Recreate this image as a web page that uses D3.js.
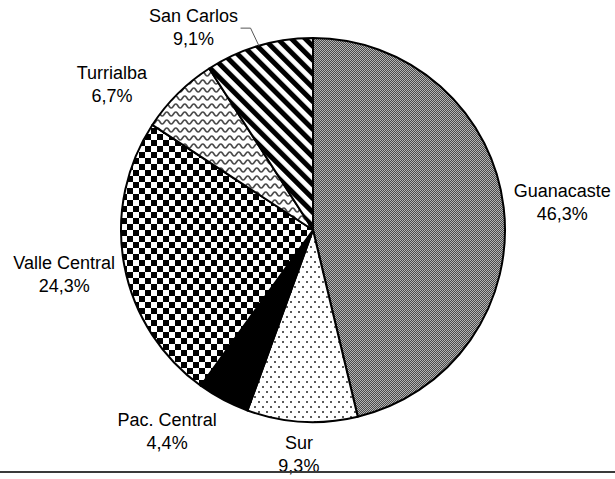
<!DOCTYPE html>
<html>
<head>
<meta charset="utf-8">
<script src="https://cdn.jsdelivr.net/npm/d3@7/dist/d3.min.js"></script>
<style>
html,body{margin:0;padding:0;background:#fff;}
svg{display:block;}
text{font-family:"Liberation Sans",Arial,sans-serif;font-size:18px;fill:#000;}
</style>
</head>
<body>
<svg id="chart" width="615" height="479"></svg>
<script>
const categories = ["Guanacaste","Sur","Pac. Central","Valle Central","Turrialba","San Carlos"];
const values = [46.3, 9.3, 4.4, 24.3, 6.7, 9.1];
const valueLabels = ["46,3%","9,3%","4,4%","24,3%","6,7%","9,1%"];
const patternIds = ["pGua","pSur","pPac","pValle","pTurr","pSC"];
const labelNudge = [[1,1],[0,-26],[-29,-20],[-3,-2],[-25,31],[-49,37]];

const W = 615, H = 479;
const cx = 313, cy = 230, R = 192, labelR = 250;

const svg = d3.select("#chart");
const defs = svg.append("defs");

// Guanacaste: fine gray checker
let p = defs.append("pattern").attr("id","pGua").attr("patternUnits","userSpaceOnUse").attr("width",2).attr("height",2);
p.append("rect").attr("width",2).attr("height",2).attr("fill","#b4b4b4");
p.append("rect").attr("width",1).attr("height",1).attr("fill","#4a4a4a");
p.append("rect").attr("x",1).attr("y",1).attr("width",1).attr("height",1).attr("fill","#4a4a4a");

// Sur: dots
p = defs.append("pattern").attr("id","pSur").attr("patternUnits","userSpaceOnUse").attr("width",8).attr("height",10);
p.append("rect").attr("width",8).attr("height",10).attr("fill","#fff");
p.append("rect").attr("x",1).attr("y",1).attr("width",2).attr("height",2).attr("fill","#5a5a5a");
p.append("rect").attr("x",5).attr("y",6).attr("width",2).attr("height",2).attr("fill","#5a5a5a");

// Pac. Central: solid black
p = defs.append("pattern").attr("id","pPac").attr("patternUnits","userSpaceOnUse").attr("width",4).attr("height",4);
p.append("rect").attr("width",4).attr("height",4).attr("fill","#000");

// Valle Central: large checker
p = defs.append("pattern").attr("id","pValle").attr("patternUnits","userSpaceOnUse").attr("width",12).attr("height",12);
p.append("rect").attr("width",12).attr("height",12).attr("fill","#fff");
p.append("rect").attr("width",6).attr("height",6).attr("fill","#000");
p.append("rect").attr("x",6).attr("y",6).attr("width",6).attr("height",6).attr("fill","#000");

// Turrialba: waves
p = defs.append("pattern").attr("id","pTurr").attr("patternUnits","userSpaceOnUse").attr("width",9).attr("height",8);
p.append("rect").attr("width",9).attr("height",8).attr("fill","#fff");
p.append("path").attr("d","M-4.5,4 Q-2.25,0 0,4 T4.5,4 T9,4 T13.5,4").attr("fill","none").attr("stroke","#4a4a4a").attr("stroke-width",1.6);

// San Carlos: diagonal stripes
p = defs.append("pattern").attr("id","pSC").attr("patternUnits","userSpaceOnUse").attr("width",9.8).attr("height",10).attr("patternTransform","rotate(-45)");
p.append("rect").attr("width",9.8).attr("height",10).attr("fill","#fff");
p.append("rect").attr("width",5).attr("height",10).attr("fill","#000");

const data = categories.map((c,i)=>({cat:c, value:values[i], label:valueLabels[i], pid:patternIds[i], nudge:labelNudge[i]}));

const pie = d3.pie().sort(null).value(d=>d.value).startAngle(0).endAngle(2*Math.PI);
const arcs = pie(data);
const arc = d3.arc().innerRadius(0).outerRadius(R);

const g = svg.append("g").attr("transform",`translate(${cx},${cy})`);
g.selectAll("path.slice").data(arcs).enter().append("path")
  .attr("class","slice")
  .attr("d",arc)
  .attr("fill",d=>`url(#${d.data.pid})`)
  .attr("stroke","#000")
  .attr("stroke-width",2)
  .attr("stroke-linejoin","round");

function polar(r,a){ return [r*Math.sin(a), -r*Math.cos(a)]; }

const labels = svg.append("g");
arcs.forEach(d=>{
  const mid = (d.startAngle+d.endAngle)/2;
  const [px,py] = polar(labelR, mid);
  const lx = cx + px + d.data.nudge[0];
  const ly = cy + py + d.data.nudge[1];
  const t = labels.append("text").attr("text-anchor","middle");
  t.append("tspan").attr("x",lx).attr("y",ly-5).text(d.data.cat);
  t.append("tspan").attr("x",lx).attr("y",ly+18).text(d.data.label);
  d.lx = lx; d.ly = ly;
});

// leader line for San Carlos
const sc = arcs[5];
const scMid = (sc.startAngle+sc.endAngle)/2;
const [ex,ey] = polar(R, scMid);
svg.append("path")
  .attr("d",`M${sc.lx+47},${sc.ly+1}H${sc.lx+57}L${cx+ex},${cy+ey}`)
  .attr("fill","none").attr("stroke","#555").attr("stroke-width",1);

// bottom rule
svg.append("rect").attr("x",0).attr("y",471).attr("width",W).attr("height",2).attr("fill","#3a3a3a");
</script>
</body>
</html>
